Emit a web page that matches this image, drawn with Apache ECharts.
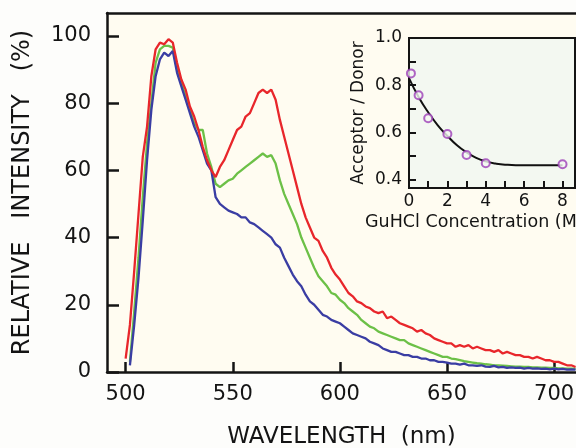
<!DOCTYPE html>
<html><head><meta charset="utf-8">
<script src="https://cdn.jsdelivr.net/npm/echarts@6/dist/echarts.min.js"></script>
<style>html,body{margin:0;padding:0;background:#fdfdfb}#c{width:576px;height:448px}</style>
</head><body><div id="c"></div>
<script>
// wavelength grid (nm), 2 nm steps
const wavelengths = [];
for (let w = 500; w <= 710; w += 2) wavelengths.push(w);

const redValues = [4,14,30,47,64,73,88,96,98,97.5,99,98,92,87,84,79,76,72,67,63,60,58,61,63,66,69,72,73,76,77,80,83,84,83,84,81,75,70,65,60,55,50,46,43,40,39,36,34,31,29,27.5,25.5,23.5,22.5,21,20.5,19.5,19,18,17.5,18,16,16.5,15.5,14.5,14,13.5,13,12,12.5,11.5,11,10,9.5,9,8.5,8.5,7.5,8,7.5,8,7,7.5,7,6.5,6.5,6,6.5,5.5,6,5.5,5,5,4.5,4.5,4,4.5,4,3.5,3.5,3,3,2.5,2,2,1.5];

const greenValues = [null,3,18,34,52,68,80,92,96,97,97,96.5,90,86,82,78,74,72,72,65,61,56,55,56,57,57.5,59,60,61,62,63,64,65,64,64.5,62,57,53,50,47,44,40,37,34,31,28.5,27,25.5,23.5,23,21.5,20.5,19,18,17,15.5,14.5,13.5,13,12,11.5,11,10.5,10,9.5,9.5,8.5,8,7.5,7,6.5,6,5.5,5,4.5,4.5,4,3.8,3.5,3.2,3,2.8,2.6,2.5,2.3,2.2,2,2,1.9,1.8,1.7,1.6,1.6,1.5,1.5,1.4,1.4,1.3,1.3,1.2,1.2,1.1,1.1,1,1,1,0.9];

const blueValues = [null,2,14,28,45,63,78,88,93,95,94,95.5,89,85,81,77,73,70,66,62,60,52,50,49,48,47.5,47,46,46,44.5,44,43,42,41,40,38,37,34,31.5,29,27,25.5,23,21,20,18.5,17,16.5,15.5,15,14.5,13.5,12.5,11.5,11,10.5,10,9,8.5,8,7,6.5,6,6,5.5,5,5,4.5,4.5,4,4,3.5,3.5,3,3,2.8,2.5,2.5,2.2,2.5,2,2,1.8,2,1.6,1.5,1.8,1.4,1.5,1.2,1.4,1.2,1.3,1,1.2,1,1.1,0.9,1,0.8,1,0.8,0.9,0.7,0.8,0.7];

const xTicks = [500,550,600,650,700];
const yTicks = [0,20,40,60,80,100];

// inset data
const guhclConc = [0.1,0.5,1,2,3,4,8];
const ratioValues = [0.85,0.757,0.66,0.593,0.504,0.469,0.465];
const fitConc = [0,0.5,1,1.5,2,2.5,3,3.5,4,4.5,5,6,7,8];
const fitValues = [0.83,0.75,0.685,0.63,0.585,0.545,0.515,0.492,0.477,0.468,0.463,0.46,0.46,0.46];
const insetXTicks = [0,1,2,3,4,5,6,7,8];
const insetXLabels = [0,2,4,6,8];
const insetYTicks = [0.4,0.5,0.6,0.7,0.8,0.9,1.0];
const insetYLabels = [0.4,0.6,0.8,1.0];

const FONT = '"DejaVu Sans", sans-serif';
const INK = '#141414';
const pair = (xs, ys) => xs.map((x, i) => [x, ys[i]]);

const chart = echarts.init(document.getElementById('c'), null, {renderer: 'canvas'});
chart.setOption({
  backgroundColor: '#fdfdfb',
  animation: false,
  textStyle: {fontFamily: FONT},
  grid: [
    {left: 107, top: 13, right: 0, bottom: 76, show: true, backgroundColor: '#fffcf1', borderWidth: 0,
     containLabel: false, outerBoundsMode: 'none'},
    {left: 409, top: 38, width: 166, height: 150, show: true, backgroundColor: '#f3f8f1', borderColor: INK, borderWidth: 2,
     containLabel: false, outerBoundsMode: 'none'}
  ],
  xAxis: [
    {gridIndex: 0, type: 'value', min: 491.3, max: 710.2,
     name: 'WAVELENGTH  (nm)', nameLocation: 'middle', nameGap: 54,
     nameTextStyle: {fontFamily: FONT, fontSize: 23, color: INK},
     axisLine: {lineStyle: {color: INK, width: 2.5}},
     axisTick: {inside: true, length: 10, lineStyle: {color: INK, width: 2.5}, customValues: xTicks},
     axisLabel: {margin: 12, fontFamily: FONT, fontSize: 21, color: INK, customValues: xTicks},
     splitLine: {show: false}},
    {gridIndex: 0, type: 'value', position: 'top', min: 491.3, max: 710.2,
     axisLine: {show: true, lineStyle: {color: INK, width: 2.5}},
     axisTick: {show: false}, axisLabel: {show: false}, splitLine: {show: false}},
    {gridIndex: 1, type: 'value', min: 0, max: 8.65,
     axisLine: {lineStyle: {color: INK, width: 2}},
     axisTick: {inside: true, length: 7, lineStyle: {color: INK, width: 2}, customValues: insetXTicks},
     axisLabel: {margin: 5, fontFamily: FONT, fontSize: 17, color: INK, customValues: insetXLabels},
     splitLine: {show: false}}
  ],
  yAxis: [
    {gridIndex: 0, type: 'value', min: 0, max: 106.8,
     name: 'RELATIVE   INTENSITY   (%)', nameLocation: 'middle', nameGap: 72, nameRotate: 90,
     nameTextStyle: {fontFamily: FONT, fontSize: 24, color: INK},
     axisLine: {lineStyle: {color: INK, width: 2.5}},
     axisTick: {inside: true, length: 12, lineStyle: {color: INK, width: 2.5}, customValues: yTicks},
     axisLabel: {margin: 16, fontFamily: FONT, fontSize: 21, color: INK, customValues: yTicks},
     splitLine: {show: false}},
    {gridIndex: 1, type: 'value', min: 0.364, max: 1.0,
     name: 'Acceptor / Donor', nameLocation: 'middle', nameGap: 42, nameRotate: 90,
     nameTextStyle: {fontFamily: FONT, fontSize: 17, color: INK},
     axisLine: {lineStyle: {color: INK, width: 2}},
     axisTick: {inside: true, length: 7, lineStyle: {color: INK, width: 2}, customValues: insetYTicks},
     axisLabel: {margin: 7, fontFamily: FONT, fontSize: 17, color: INK, customValues: insetYLabels,
                 formatter: v => v.toFixed(1)},
     splitLine: {show: false}}
  ],
  graphic: [
    {type: 'text', left: 365, top: 213, z: 100,
     style: {text: 'GuHCl Concentration (M)', fontFamily: FONT, fontSize: 17.5, fill: INK}}
  ],
  series: [
    {type: 'line', xAxisIndex: 0, yAxisIndex: 0, data: pair(wavelengths, greenValues), showSymbol: false,
     lineStyle: {color: '#6cc047', width: 2.3}},
    {type: 'line', xAxisIndex: 0, yAxisIndex: 0, data: pair(wavelengths, blueValues), showSymbol: false,
     lineStyle: {color: '#3a3da3', width: 2.3}},
    {type: 'line', xAxisIndex: 0, yAxisIndex: 0, data: pair(wavelengths, redValues), showSymbol: false,
     lineStyle: {color: '#e8262b', width: 2.3}},
    {type: 'line', xAxisIndex: 2, yAxisIndex: 1, data: pair(fitConc, fitValues), showSymbol: false, smooth: true,
     lineStyle: {color: '#111', width: 2}, z: 10},
    {type: 'scatter', xAxisIndex: 2, yAxisIndex: 1, data: pair(guhclConc, ratioValues), symbol: 'circle', symbolSize: 8,
     itemStyle: {color: '#f3f8f1', borderColor: '#9c3fb8', borderWidth: 2}, z: 11}
  ]
});
</script></body></html>
